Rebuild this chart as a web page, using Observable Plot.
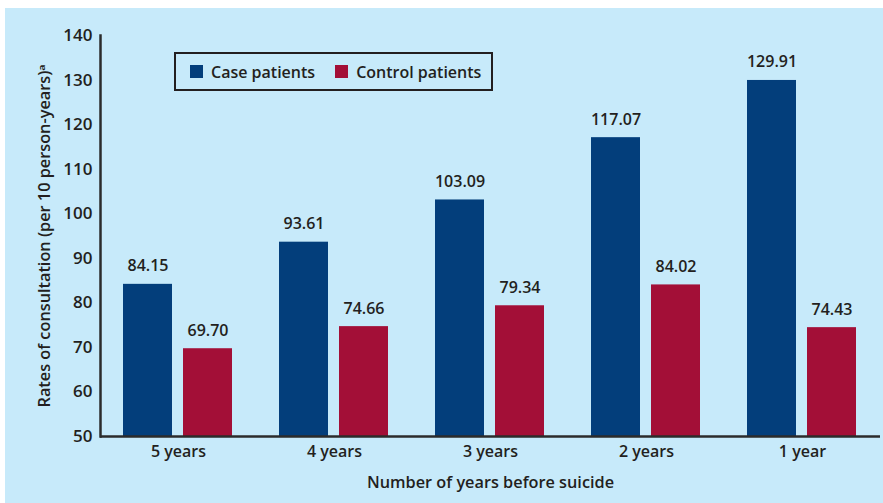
<!DOCTYPE html>
<html>
<head>
<meta charset="utf-8">
<script src="https://cdn.jsdelivr.net/npm/d3@7"></script>
<script src="https://cdn.jsdelivr.net/npm/@observablehq/plot@0.6"></script>
<style>
  html, body { margin: 0; padding: 0; background: #ffffff; }
  #panel {
    position: absolute; left: 5px; top: 8px; width: 878px; height: 495px;
    background: #c7eafa; overflow: hidden;
    font-family: "Open Sans", "Noto Sans", sans-serif; color: #231f20;
  }
  #panel svg { position: absolute; left: 0; top: 0; }
  #panel svg text { font-weight: 600; fill: #231f20; }
  #panel [aria-label$="axis label"] text, #panel [aria-label$="axis label"] { font-size: 16.3px !important; }
  #legend {
    position: absolute; left: 169px; top: 44px; width: 315px; height: 35px;
    border: 2px solid #231f20; box-sizing: content-box;
    display: flex; align-items: center; font-size: 16px; font-weight: 600;
  }
  #legend .item { display: flex; align-items: center; }
  #legend .sw { width: 13px; height: 13px; display: inline-block; margin-right: 8px; }
</style>
</head>
<body>
<div id="panel"></div>
<script>
const years = ["5 years", "4 years", "3 years", "2 years", "1 year"];
const groups = ["Case patients", "Control patients"];
const caseValues = [84.15, 93.61, 103.09, 117.07, 129.91];
const controlValues = [69.70, 74.66, 79.34, 84.02, 74.43];
const yTicks = [50, 60, 70, 80, 90, 100, 110, 120, 130, 140];
const colors = ["#033e7b", "#a30f37"];
const xLabel = "Number of years before suicide";
const yLabel = "Rates of consultation (per 10 person-years)\u1d43";

const rows = [];
years.forEach((yr, i) => {
  rows.push({year: yr, group: groups[0], value: caseValues[i]});
  rows.push({year: yr, group: groups[1], value: controlValues[i]});
});

const chart = Plot.plot({
  width: 878,
  height: 495,
  marginLeft: 95,
  marginTop: 27,
  marginBottom: 67,
  marginRight: 3,
  style: {background: "transparent", fontFamily: "'Open Sans', 'Noto Sans', sans-serif", fontSize: "16px", color: "#231f20"},
  fx: {domain: years, padding: 0},
  x: {domain: groups, paddingInner: 0.18, paddingOuter: 0.39, axis: null},
  y: {domain: [50, 140]},
  color: {domain: groups, range: colors},
  marks: [
    Plot.barY(rows, {fx: "year", x: "group", y1: 50, y2: "value", fill: "group"}),
    Plot.text(rows, {fx: "year", x: "group", y: "value", text: d => d.value.toFixed(2), lineAnchor: "bottom", dy: -13, fontSize: 16, fill: "#231f20"}),
    Plot.axisY({ticks: yTicks, tickSize: 0, tickPadding: 8, fontSize: 17, label: yLabel, labelAnchor: "center", labelOffset: 62, labelArrow: "none"}),
    Plot.axisFx({anchor: "bottom", tickSize: 0, tickPadding: 9, fontSize: 16, label: xLabel, labelAnchor: "center", labelOffset: 51, labelArrow: "none"}),
    Plot.ruleY([50], {stroke: "#2b2b2b", strokeWidth: 2.5}),
    Plot.frame({anchor: "left", fx: () => years[0], stroke: "#2b2b2b", strokeWidth: 2.5})
  ]
});
const panel = document.getElementById("panel");
panel.appendChild(chart);

const legend = document.createElement("div");
legend.id = "legend";
groups.forEach((g, i) => {
  const item = document.createElement("div");
  item.className = "item";
  item.style.marginLeft = i === 0 ? "14px" : "20px";
  const sw = document.createElement("span");
  sw.className = "sw";
  sw.style.background = colors[i];
  const t = document.createElement("span");
  t.textContent = g;
  item.appendChild(sw);
  item.appendChild(t);
  legend.appendChild(item);
});
panel.appendChild(legend);
</script>
</body>
</html>
